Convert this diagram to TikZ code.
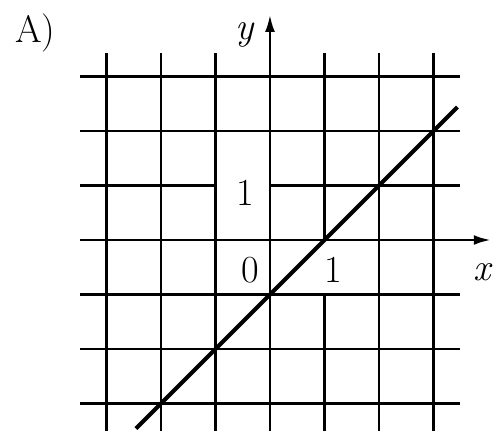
\documentclass[tikz,border=0pt]{standalone}
\usetikzlibrary{arrows.meta}
\tikzset{
  gridline/.style={line width=1.5pt, black},
  axisline/.style={line width=1.5pt, black, -{Latex[length=3.2mm, width=1.8mm]}},
  graphline/.style={line width=2.2pt, black},
  lbl/.style={font=\fontsize{20}{24}\selectfont, inner sep=0pt}
}
\begin{document}
\begin{tikzpicture}[x=1cm, y=1cm]
\useasboundingbox (-4.954,-3.505) rectangle (4.147,4.404);
% ---------- grid ----------
\foreach \i in {-3,-2,-1,2,3}{\draw[gridline] (\i,-3.505) -- (\i,3.43);}
\draw[gridline] (1,-3.505) -- (1,-1) (1,0) -- (1,3.43);
\foreach \j in {-3,-2,-1,2,3}{\draw[gridline] (-3.49,\j) -- (3.49,\j);}
\draw[gridline] (-3.49,1) -- (-1,1) (0,1) -- (3.49,1);
% ---------- axes ----------
\coordinate (xs) at (-3.49,0);
\coordinate (xe) at (4.06,0);
\coordinate (ys) at (0,-3.505);
\coordinate (ye) at (0,4.14);
\draw[axisline] (xs) -- (xe);
\draw[axisline] (ys) -- (ye);
% ---------- graph y = x - 1 ----------
\coordinate (gs) at (-2.46,-3.46);
\coordinate (ge) at (3.44,2.44);
\draw[graphline] (gs) -- (ge);
% ---------- labels ----------
\node[lbl] (title) at (-4.31,3.8) {A)};
\node[lbl] (ylab) at (-0.46,3.76) {\textit{y}};
\node[lbl] (xlab) at (3.91,-0.59) {\textit{x}};
\node[lbl] (orig) at (-0.37,-0.55) {0};
\node[lbl] (xone) at (1.16,-0.55) {1};
\node[lbl] (yone) at (-0.46,0.86) {1};
\end{tikzpicture}
\end{document}
